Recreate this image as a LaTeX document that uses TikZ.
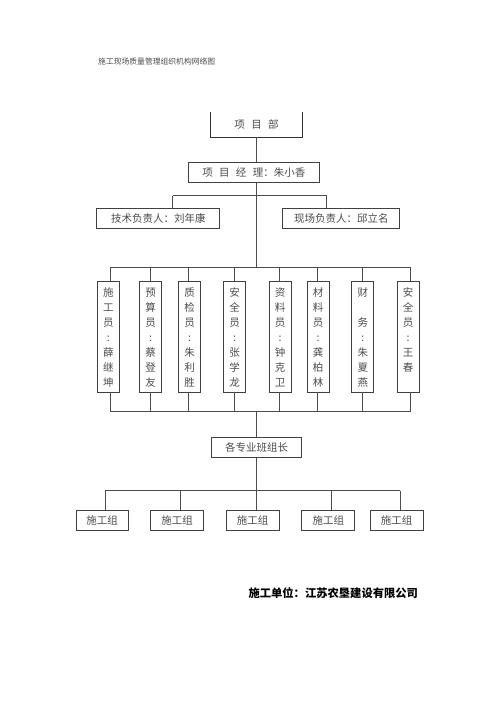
\documentclass[tikz,border=0pt]{standalone}
\usepackage{fontspec}
\setmainfont{Noto Sans CJK SC}
\begin{document}
\begin{tikzpicture}[x=1pt,y=-1pt,
  txt/.style={text=black!70, font=\fontsize{10.5}{12}\selectfont, inner sep=0pt},
  box/.style={txt, draw=black!75, line width=0.8pt, minimum height=20pt},
  colbox/.style={txt, draw=black!75, line width=0.8pt, minimum width=22pt, minimum height=111pt,
     anchor=north, align=center, font=\fontsize{10.5}{15}\selectfont, text depth=0pt},
  wire/.style={draw=black!70, line width=0.7pt}]
\useasboundingbox (0,0) rectangle (500,707);

\node[txt, font=\fontsize{7.8}{9}\selectfont, anchor=west] (title) at (98,61.7) {施工现场质量管理组织机构网络图};

\node[txt, minimum width=91pt, minimum height=25pt] (xmb) at (256.5,124.5) {项\hspace{0.6em}目\hspace{0.6em}部};
\draw[black!80, line width=0.9pt] (xmb.north west) -- (xmb.south west) -- (xmb.south east) -- (xmb.north east);

\node[box, minimum width=131pt] (jl) at (253.8,172.4) {项\hspace{0.6em}目\hspace{0.6em}经\hspace{0.6em}理：朱小香};
\node[box, minimum width=123pt] (js) at (158.3,218.3) {技术负责人：刘年康};
\node[box, minimum width=117pt] (xc) at (341.3,218.3) {现场负责人：邱立名};

\coordinate (hb) at (256.5,195.7);
\coordinate (hl) at (172.7,195.7);
\coordinate (hr) at (326.7,195.7);
\coordinate (tb) at (256.5,267.3);
\coordinate (tbl) at (110,267.3);
\coordinate (tbr) at (410,267.3);

\draw[wire] (xmb.south) -- (xmb.south |- jl.north);
\draw[wire] (jl.south -| hb) -- (tb);
\draw[wire] (hl) -- (hr);
\draw[wire] (hl) -- (hl |- js.north);
\draw[wire] (hr) -- (hr |- xc.north);
\draw[wire] (tbl) -- (tbr);

\node[colbox] (c1) at (108.3,281) {施\\工\\员\\:\\薛\\继\\坤};
\node[colbox] (c2) at (150.5,281) {预\\算\\员\\:\\蔡\\登\\友};
\node[colbox] (c3) at (189.5,281) {质\\检\\员\\:\\朱\\利\\胜};
\node[colbox] (c4) at (234.5,281) {安\\全\\员\\:\\张\\学\\龙};
\node[colbox] (c5) at (280,281) {资\\料\\员\\:\\钟\\克\\卫};
\node[colbox] (c6) at (318,281) {材\\料\\员\\:\\龚\\柏\\林};
\node[colbox] (c7) at (362.8,281) {财\\\strut\\务\\:\\朱\\夏\\燕};
\node[colbox] (c8) at (408,281) {安\\全\\员\\:\\王\\春\\\strut};

\coordinate (bb) at (256.5,411.7);
\foreach \i/\x in {1/110.5,2/150.7,3/188.5,4/234.2,5/279.5,6/317.5,7/362.7,8/410}{
  \draw[wire] (\x,267.3) -- (\x,281);
  \draw[wire] (\x,392) -- (\x,411.7);
}
\draw[wire] (110.5,411.7) -- (410,411.7);

\node[box, minimum width=90pt] (bz) at (256.7,447.3) {各专业班组长};
\draw[wire] (bb) -- (bb |- bz.north);

\coordinate (gb) at (256.7,490.7);
\draw[wire] (bz.south) -- (gb);
\draw[wire] (105,490.7) -- (400,490.7);

\node[box, minimum width=52pt] (g1) at (102.2,520) {施工组};
\node[box, minimum width=53pt] (g2) at (177,520) {施工组};
\node[box, minimum width=53pt] (g3) at (252.7,520) {施工组};
\node[box, minimum width=53pt] (g4) at (328.3,520) {施工组};
\node[box, minimum width=53pt] (g5) at (396.7,520) {施工组};
\foreach \x in {105,180.7,256.7,331.7,400}{
  \draw[wire] (\x,490.7) -- (\x,510);
}

\node[txt, text=black, font=\fontsize{11.3}{13}\bfseries\selectfont, anchor=west] (unit) at (248.3,593.3) {施工单位：江苏农垦建设有限公司};
\end{tikzpicture}
\end{document}
